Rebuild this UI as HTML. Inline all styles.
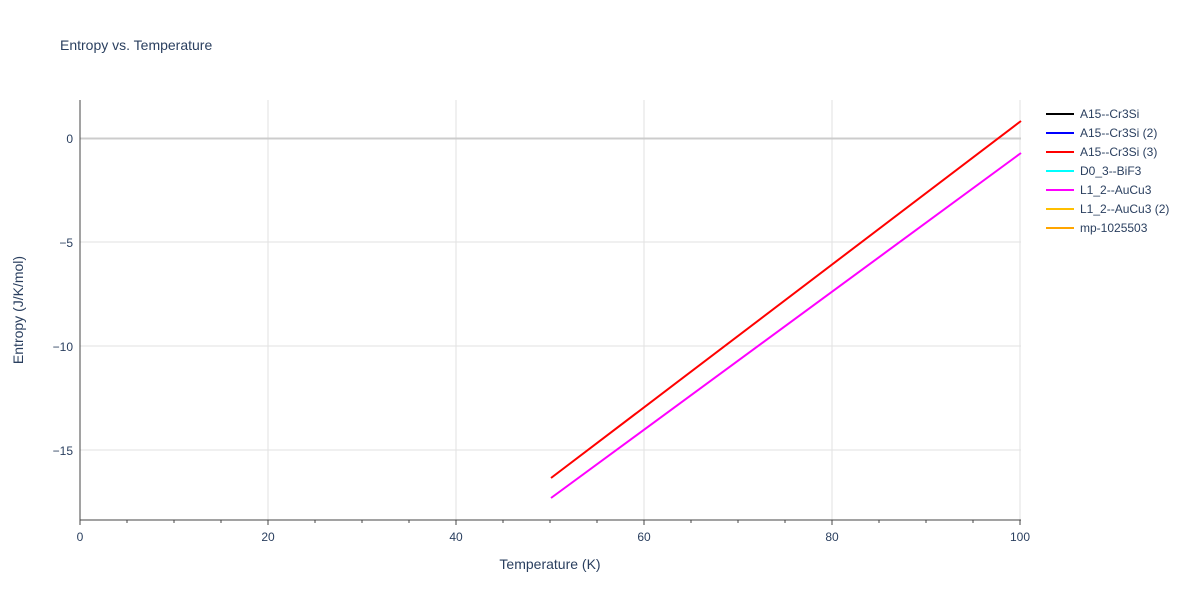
<!DOCTYPE html>
<html><head><meta charset="utf-8"><style>
body{margin:0;background:#fff;}
svg{display:block;font-family:"Liberation Sans",Arial,sans-serif;}
</style></head><body>
<svg width="1200" height="600" viewBox="0 0 1200 600">
<rect width="1200" height="600" fill="#fff"/>
<text x="60" y="50" font-size="14" fill="#2a3f5f">Entropy vs. Temperature</text>
<g stroke="#e2e2e2" stroke-width="1">
<line x1="268" y1="100" x2="268" y2="520"/>
<line x1="456" y1="100" x2="456" y2="520"/>
<line x1="644" y1="100" x2="644" y2="520"/>
<line x1="832" y1="100" x2="832" y2="520"/>
<line x1="1020" y1="100" x2="1020" y2="520"/>
<line x1="80" y1="242" x2="1021" y2="242"/>
<line x1="80" y1="346" x2="1021" y2="346"/>
<line x1="80" y1="450" x2="1021" y2="450"/>
</g>
<line x1="80" y1="138.5" x2="1021" y2="138.5" stroke="#ccc" stroke-width="2"/>
<line x1="80" y1="100" x2="80" y2="520" stroke="#444" stroke-width="1"/>
<line x1="80" y1="520" x2="1021" y2="520" stroke="#444" stroke-width="1"/>
<g stroke="#444" stroke-width="1">
<line x1="80" y1="520" x2="80" y2="525"/><line x1="127" y1="520" x2="127" y2="523"/>
<line x1="174" y1="520" x2="174" y2="523"/><line x1="221" y1="520" x2="221" y2="523"/>
<line x1="268" y1="520" x2="268" y2="525"/><line x1="315" y1="520" x2="315" y2="523"/>
<line x1="362" y1="520" x2="362" y2="523"/><line x1="409" y1="520" x2="409" y2="523"/>
<line x1="456" y1="520" x2="456" y2="525"/><line x1="503" y1="520" x2="503" y2="523"/>
<line x1="550" y1="520" x2="550" y2="523"/><line x1="597" y1="520" x2="597" y2="523"/>
<line x1="644" y1="520" x2="644" y2="525"/><line x1="691" y1="520" x2="691" y2="523"/>
<line x1="738" y1="520" x2="738" y2="523"/><line x1="785" y1="520" x2="785" y2="523"/>
<line x1="832" y1="520" x2="832" y2="525"/><line x1="879" y1="520" x2="879" y2="523"/>
<line x1="926" y1="520" x2="926" y2="523"/><line x1="973" y1="520" x2="973" y2="523"/>
<line x1="1020" y1="520" x2="1020" y2="525"/>
</g>
<g font-size="12" fill="#2a3f5f" text-anchor="middle">
<text x="80" y="541">0</text><text x="268" y="541">20</text><text x="456" y="541">40</text>
<text x="644" y="541">60</text><text x="832" y="541">80</text><text x="1020" y="541">100</text>
</g>
<g font-size="12" fill="#2a3f5f" text-anchor="end">
<text x="73" y="143">0</text><text x="73" y="247">−5</text>
<text x="73" y="351">−10</text><text x="73" y="455">−15</text>
</g>
<text x="550" y="569" font-size="14" fill="#2a3f5f" text-anchor="middle">Temperature (K)</text>
<text transform="translate(23,310) rotate(-90)" font-size="14" fill="#2a3f5f" text-anchor="middle">Entropy (J/K/mol)</text>
<line x1="551" y1="498" x2="1021" y2="153" stroke="#ff00ff" stroke-width="2"/>
<line x1="551" y1="478" x2="1021" y2="121" stroke="#ff0000" stroke-width="2"/>
<g stroke-width="2">
<line x1="1046" y1="114" x2="1074" y2="114" stroke="#000"/>
<line x1="1046" y1="133" x2="1074" y2="133" stroke="#0000ff"/>
<line x1="1046" y1="152" x2="1074" y2="152" stroke="#ff0000"/>
<line x1="1046" y1="171" x2="1074" y2="171" stroke="#00ffff"/>
<line x1="1046" y1="190" x2="1074" y2="190" stroke="#ff00ff"/>
<line x1="1046" y1="209" x2="1074" y2="209" stroke="#ffbf00"/>
<line x1="1046" y1="228" x2="1074" y2="228" stroke="#ffa500"/>
</g>
<g font-size="12" fill="#2a3f5f">
<text x="1080" y="118">A15--Cr3Si</text>
<text x="1080" y="137">A15--Cr3Si (2)</text>
<text x="1080" y="156">A15--Cr3Si (3)</text>
<text x="1080" y="175">D0_3--BiF3</text>
<text x="1080" y="194">L1_2--AuCu3</text>
<text x="1080" y="213">L1_2--AuCu3 (2)</text>
<text x="1080" y="232">mp-1025503</text>
</g>
</svg>
</body></html>
